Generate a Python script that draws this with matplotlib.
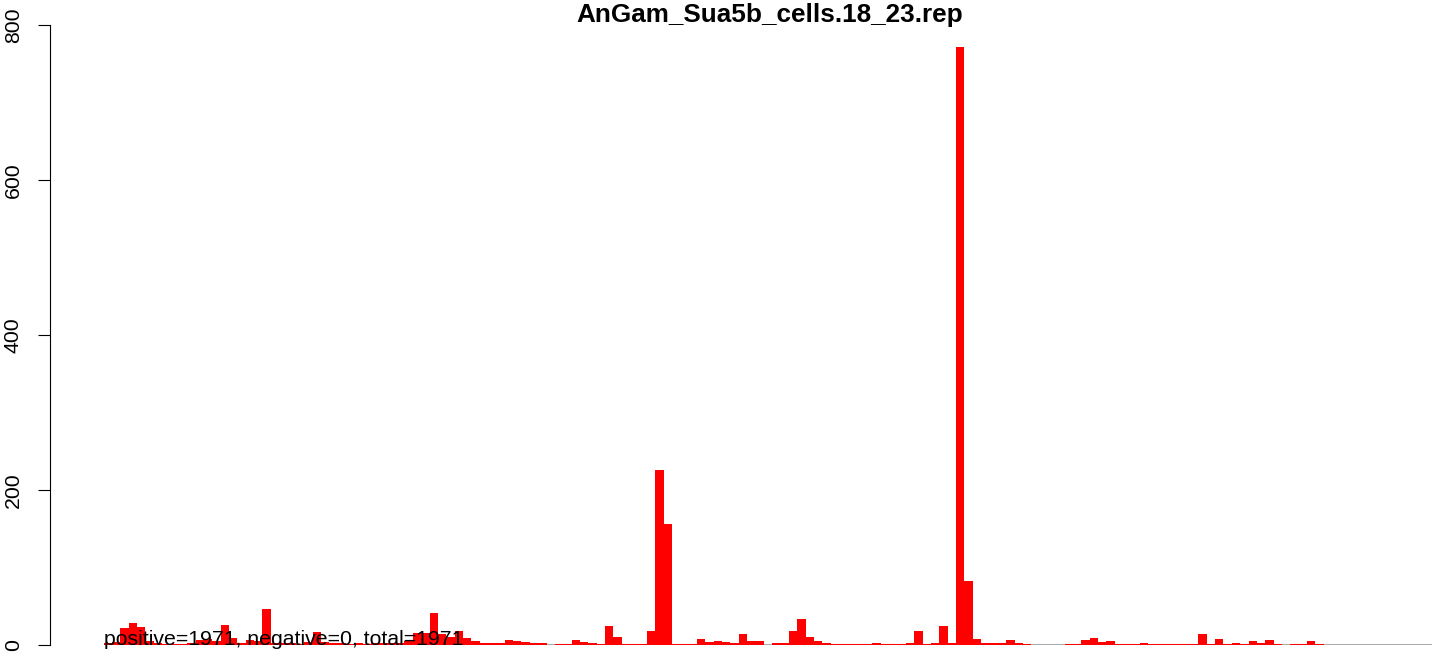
import matplotlib
matplotlib.use("Agg")
import matplotlib.pyplot as plt
import numpy as np

# chart text
title = "AnGam_Sua5b_cells.18_23.rep"
summary = "positive=1971, negative=0, total=1971"

# counts per bin
counts = [2, 4, 22, 28, 23, 5, 2, 1, 1, 1, 2, 6, 8, 5, 26, 9, 3, 6, 5, 47,
          3, 2, 2, 1, 4, 17, 4, 2, 2, 1, 2, 1, 2, 3, 3, 2, 5, 16, 16, 41,
          14, 10, 18, 9, 5, 3, 2, 3, 6, 5, 4, 3, 2, 0, 1, 1, 6, 4, 3, 1,
          24, 10, 1, 1, 1, 18, 226, 156, 1, 1, 1, 8, 4, 5, 4, 3, 14, 5, 5, 0,
          2, 2, 18, 34, 10, 5, 3, 1, 1, 1, 1, 1, 3, 1, 1, 1, 3, 18, 1, 3,
          25, 3, 771, 83, 8, 2, 2, 2, 6, 3, 1, 0, 0, 0, 0, 1, 1, 6, 9, 4,
          5, 1, 1, 1, 3, 1, 1, 1, 1, 1, 1, 14, 1, 8, 1, 3, 1, 5, 2, 6,
          1, 0, 1, 1, 5, 1, 0, 0, 0, 0, 0, 0, 0, 0, 0, 0, 0, 0, 0]
bins = np.arange(len(counts))

yticks = [0, 200, 400, 600, 800]

plt.rcParams["font.family"] = ["Liberation Sans", "DejaVu Sans"]

W, H = 1444, 656
fig = plt.figure(figsize=(W / 100, H / 100), dpi=100)

# plot region in pixels
left_px, right_px, bottom_px, top_px = 50, 1444, 645, 20
ax = fig.add_axes([left_px / W, (H - bottom_px) / H,
                   (right_px - left_px) / W, (bottom_px - top_px) / H])

bar_w = 8.357
x0_px = 103.6
ax.set_xlim((left_px - x0_px) / bar_w, (right_px - x0_px) / bar_w)
ax.set_ylim(0, (bottom_px - top_px) / 0.775)

# baseline
ax.hlines(0, 0, len(counts), color="#aaaaaa", lw=1.5, zorder=1)

ax.bar(bins, counts, width=1.0, align="edge", color="red", linewidth=0, zorder=2)

ax.text(0, 0, summary, fontsize=15.3, ha="left", va="baseline", zorder=5)

for s in ["top", "right", "bottom"]:
    ax.spines[s].set_visible(False)
ax.spines["left"].set_bounds(0, 800)
ax.spines["left"].set_linewidth(0.8)
ax.set_xticks([])
ax.set_yticks(yticks)
ax.tick_params(axis="y", length=8.6, width=0.8, pad=11, labelsize=15.3,
               labelrotation=90)
for lab in ax.get_yticklabels():
    lab.set_va("center")

fig.text(770 / W, 1 - 22 / H, title, fontsize=18.8, fontweight="bold",
         ha="center", va="baseline")

fig.savefig("out.png", dpi=100)
